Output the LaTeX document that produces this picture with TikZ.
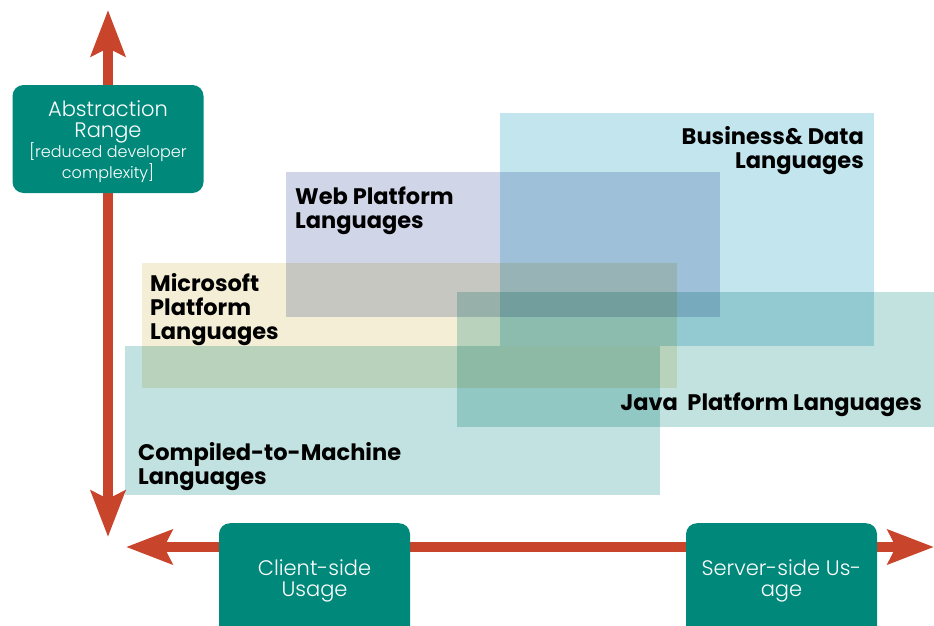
\documentclass[tikz,border=0pt]{standalone}
\usepackage{fontspec}
\setmainfont{Poppins}
\IfFontExistsTF{Poppins Light}
    {\newfontfamily\tagfont{Poppins Light}}
    {\newfontfamily\tagfont{Poppins}}
\usetikzlibrary{arrows.meta}
\definecolor{axisred}{HTML}{C8452C}
\definecolor{tagteal}{HTML}{00897A}
\definecolor{bizblue}{HTML}{C2E5EE}
\definecolor{webblue}{HTML}{D0D6E8}
\definecolor{mscream}{HTML}{F4EED6}
\definecolor{javateal}{HTML}{C2E2E0}
\definecolor{nativeteal}{HTML}{C1E2E0}
\newcommand{\lowtop}{\rule{0pt}{21.5pt}}
\begin{document}
\begin{tikzpicture}[x=1pt, y=-1pt,
        axis/.style = {draw=axisred, line width=10.5pt,
            {Stealth[length=46pt, width=34pt, inset=8pt]}-{Stealth[length=46pt, width=34pt, inset=8pt]}},
        tag/.style = {shape=rectangle, rounded corners=11pt, fill=tagteal,
            text=white, align=center, inner sep=0pt,
            minimum width=191pt, font=\tagfont\fontsize{21}{21}\selectfont},
        area/.style = {blend mode=multiply},
        lang/.style = {inner sep=0pt, font=\fontsize{22.5}{24}\selectfont\bfseries}]
    \useasboundingbox (0,0) rectangle (934,626);
    \clip (0,0) rectangle (934,626);
    \coordinate (top) at (108,10);
    \coordinate (origin) at (108,537);
    \coordinate (left) at (126,547);
    \coordinate (right) at (934,547);
    \draw[axis] (origin) -- (top);
    \draw[axis] (left) -- (right);
    \fill[area, fill=bizblue] (500,113) rectangle (874,346);
    \fill[area, fill=webblue] (286,172) rectangle (720,317);
    \fill[area, fill=mscream] (142,263) rectangle (677,388);
    \fill[area, fill=javateal] (457,292) rectangle (940,427);
    \fill[area, fill=nativeteal] (125,346) rectangle (660,495);
    \node[lang, anchor=north east, align=right] (biz) at (864,126)
        {Business\& Data\\Languages};
    \node[lang, anchor=north west, align=left] (web) at (295,187)
        {Web Platform\\Languages};
    \node[lang, anchor=north west, align=left] (ms) at (150,273)
        {Microsoft\\Platform\\Languages};
    \node[lang, anchor=base east] (java) at (922,410)
        {Java\ \ Platform Languages};
    \node[lang, anchor=north west, align=left] (native) at (138,442)
        {Compiled-to-Machine\\Languages};
    \node[tag, minimum height=108pt] (range) at (108,139)
        {\lowtop Abstraction\\Range\\[-1pt]{\fontsize{16}{20}\selectfont[reduced developer}\\
         {\fontsize{16}{20}\selectfont complexity]}};
    \node[tag, anchor=north, minimum height=116pt] (client) at (314.5,523)
        {Client-side\\Usage};
    \node[tag, anchor=north, minimum height=116pt] (server) at (781.5,523)
        {Server-side Us-\\age};
\end{tikzpicture}
\end{document}
